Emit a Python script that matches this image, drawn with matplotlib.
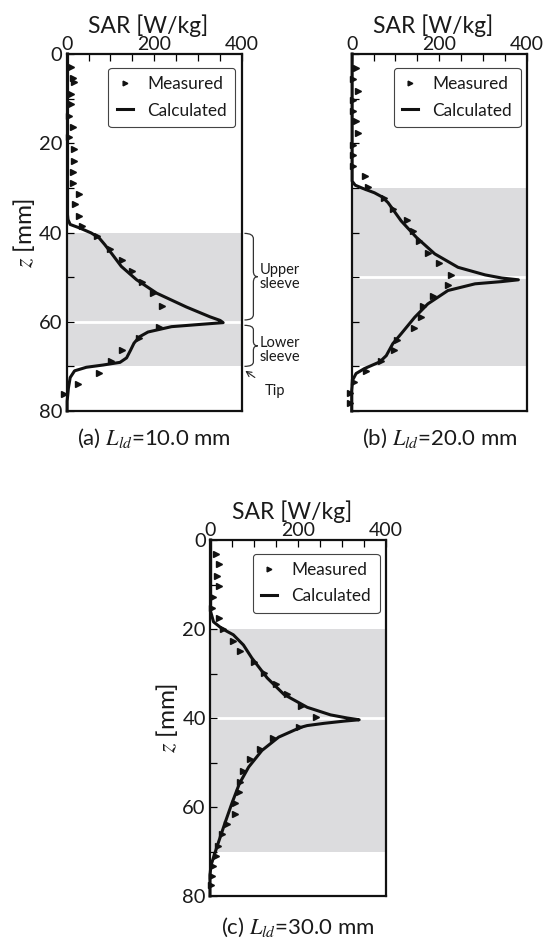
import matplotlib
matplotlib.use('Agg')
import matplotlib.pyplot as plt
from matplotlib.path import Path
from matplotlib.patches import PathPatch
from matplotlib.lines import Line2D
from matplotlib.ticker import MultipleLocator

plt.rcParams['font.family'] = ['Lato', 'DejaVu Sans']
plt.rcParams['mathtext.fontset'] = 'stix'

# (a) L_ld = 10.0 mm
meas_z_a = [2.9, 5.3, 6.3, 8.9, 11.1, 13.9, 16.3, 18.6, 21.3, 23.9, 26.4, 28.9, 31.3, 33.7,
            36.3, 38.6, 40.8, 43.7, 46.2, 48.7, 51.2, 53.6, 56.4, 61.2, 63.6, 66.3, 68.9,
            71.4, 74.0, 76.2]
meas_sar_a = [10, 14, 17, 10, 10, 6, 14, 5, 17, 17, 15, 14, 28, 19,
              28, 36, 70, 98, 127, 150, 173, 198, 217, 211, 166, 127, 101,
              74, 26, -7]
calc_z_a = [0, 10, 20, 30, 36.0, 37.1, 38.2, 39.0, 40.1, 41.2, 42.7, 44.6, 47.6, 50.6, 53.6,
            56.7, 58.9, 59.7, 60.2, 60.6, 61.1, 62.3, 63.4, 64.8, 66.4, 68.1, 69.1, 69.7,
            70.2, 71.0, 72.5, 74.8, 77.8, 80]
calc_sar_a = [2, 2, 2, 2, 2, 3, 8, 30, 56, 74, 87, 102, 125, 160, 206,
              274, 328, 351, 358, 305, 240, 186, 166, 154, 146, 137, 122, 83,
              45, 18, 8, 4, 1, 1]

# (b) L_ld = 20.0 mm
meas_z_b = [3.1, 5.6, 8.2, 10.4, 12.7, 15.0, 17.7, 20.3, 22.6, 25.1, 27.3, 29.7, 32.3, 34.8,
            37.2, 39.6, 42.0, 44.5, 46.9, 49.5, 51.8, 54.3, 56.4, 59.0, 61.4, 64.2, 66.4,
            68.8, 71.0, 73.5, 76.0, 78.3]
meas_sar_b = [9, 3, 14, 3, 4, 9, 14, 4, 4, 4, 31, 38, 74, 94,
              126, 139, 153, 174, 200, 227, 220, 186, 164, 159, 142, 103, 96,
              67, 33, 5, -5, -5]
calc_z_b = [0, 10, 20, 26.2, 28.5, 29.4, 30.1, 31.1, 32.0, 33.3, 34.8, 37.4, 41.1, 44.8,
            47.8, 49.5, 50.2, 50.6, 51.0, 51.5, 53.0, 56.0, 59.0, 62.7, 64.9, 67.6, 69.0,
            70.5, 71.6, 73.1, 75.4, 80]
calc_sar_b = [1, 1, 1, 1, 1, 8, 25, 52, 69, 83, 94, 113, 148, 190,
              243, 305, 343, 381, 343, 282, 220, 174, 144, 113, 94, 79, 64,
              29, 10, 2, 0, 0]

# (c) L_ld = 30.0 mm
meas_z_c = [3.1, 5.5, 8.0, 10.4, 12.9, 15.2, 17.6, 20.0, 22.7, 25.0, 27.4, 29.9, 32.3, 34.7,
            37.3, 39.7, 42.1, 44.4, 46.9, 49.3, 51.9, 54.3, 56.7, 59.1, 61.5, 63.9, 66.1,
            68.7, 71.1, 73.2, 75.4, 77.6]
meas_sar_c = [14, 21, 17, 20, 6, 5, 20, 30, 53, 69, 99, 123, 151, 175,
              206, 240, 202, 143, 113, 90, 75, 69, 66, 57, 56, 38, 27,
              18, 14, 6, 4, 2]
calc_z_c = [0, 10, 16.1, 18.4, 19.9, 21.3, 23.6, 26.5, 31.0, 34.7, 37.6, 39.3, 40.0, 40.4,
            40.7, 41.2, 41.7, 42.1, 44.3, 47.3, 51.0, 54.7, 59.1, 63.6, 68.0, 71.0, 73.2,
            75.4, 80]
calc_sar_c = [1.5, 1.5, 1.5, 8, 27, 53, 76, 95, 130, 168, 221, 274, 312, 339,
              305, 259, 221, 206, 156, 118, 88, 67, 50, 34, 19, 9, 2,
              0, 0]

# shaded sleeve regions: start, gap, end [mm]
sleeves = {'a': (40, 60, 70), 'b': (30, 50, 70), 'c': (20, 40, 70)}
captions = {'a': '(a) $L_{ld}$=10.0 mm', 'b': '(b) $L_{ld}$=20.0 mm', 'c': '(c) $L_{ld}$=30.0 mm'}

W, H = 554, 941
fig = plt.figure(figsize=(W / 100, H / 100), dpi=100)

# axes boxes in pixels: left, top, right, bottom
boxes = {'a': (66.7, 54, 241.5, 411), 'b': (351.7, 54, 526.7, 411), 'c': (210, 540, 386, 896)}
cap_gap = {'a': 27, 'b': 27, 'c': 31}
data = {'a': (meas_z_a, meas_sar_a, calc_z_a, calc_sar_a),
        'b': (meas_z_b, meas_sar_b, calc_z_b, calc_sar_b),
        'c': (meas_z_c, meas_sar_c, calc_z_c, calc_sar_c)}

TXT = '#1a1a1a'


def brace(ax, x_end, x_stem, x_tip, z0, z1, r=1.2):
    zm = (z0 + z1) / 2
    verts = [(x_end, z0), (x_stem, z0), (x_stem, z0 + r),
             (x_stem, zm - r), (x_stem, zm), (x_tip, zm),
             (x_stem, zm), (x_stem, zm + r),
             (x_stem, z1 - r), (x_stem, z1), (x_end, z1)]
    codes = [Path.MOVETO, Path.CURVE3, Path.CURVE3, Path.LINETO, Path.CURVE3, Path.CURVE3,
             Path.CURVE3, Path.CURVE3, Path.LINETO, Path.CURVE3, Path.CURVE3]
    ax.add_patch(PathPatch(Path(verts, codes), fc='none', ec='#333333', lw=0.9,
                           transform=ax.get_yaxis_transform(), clip_on=False))


axes = {}
for key in ['a', 'b', 'c']:
    l, t, r, b = boxes[key]
    ax = fig.add_axes([l / W, 1 - b / H, (r - l) / W, (b - t) / H])
    axes[key] = ax
    mz, ms, cz, cs = data[key]
    z0, zg, z1 = sleeves[key]

    ax.axhspan(z0, z1, color='#dcdcde', lw=0, zorder=0)
    ax.axhline(zg, color='white', lw=2.0, zorder=0.5)
    ax.plot(cs, cz, color='#111111', lw=2.2, zorder=3, clip_on=False)
    ax.plot(ms, mz, ls='none', marker='>', ms=4.5, color='#111111', zorder=4, clip_on=False)

    ax.set_xlim(0, 400)
    ax.set_ylim(80, 0)
    ax.xaxis.tick_top()
    ax.xaxis.set_label_position('top')
    ax.set_xlabel('SAR [W/kg]', fontsize=16.5, color=TXT)
    ax.xaxis.set_label_coords(0.465, 1.058)
    ax.xaxis.set_major_locator(MultipleLocator(200))
    ax.xaxis.set_minor_locator(MultipleLocator(50))
    ax.yaxis.set_major_locator(MultipleLocator(20))
    ax.yaxis.set_minor_locator(MultipleLocator(10))
    ax.tick_params(axis='x', which='both', direction='in', top=True, bottom=False,
                   length=5, width=0.9, pad=1, labelsize=14, labelcolor=TXT)
    ax.tick_params(axis='y', which='both', direction='in', left=True, right=False,
                   length=5, width=0.9, pad=3, labelsize=14.5, labelcolor=TXT)
    if key == 'b':
        ax.tick_params(axis='y', labelleft=False)
    else:
        ax.set_ylabel('$z$ [mm]', fontsize=17.5, color=TXT)
        ax.yaxis.set_label_coords(-0.17, 0.5)
    for sp in ax.spines.values():
        sp.set_linewidth(1.6)
        sp.set_color('#111111')

    handles = [Line2D([], [], ls='none', marker='>', ms=3.4, color='#111111'),
               Line2D([], [], color='#111111', lw=2.2)]
    leg = ax.legend(handles, ['Measured', 'Calculated'], loc='upper right',
                    bbox_to_anchor=(0.965, 0.962), borderaxespad=0, fontsize=12.4,
                    handlelength=0.9, handletextpad=0.85, borderpad=0.5, labelspacing=0.6,
                    fancybox=True, framealpha=1)
    leg.get_frame().set_edgecolor('#444444')
    leg.get_frame().set_linewidth(0.8)
    for txt in leg.get_texts():
        txt.set_color(TXT)

    fig.text(((l + r) / 2) / W, 1 - (b + cap_gap[key]) / H, captions[key], ha='center',
             va='center', fontsize=16, color=TXT)

# sleeve annotations on (a)
ax = axes['a']
brace(ax, 1.017, 1.068, 1.093, 40.2, 59.6)
brace(ax, 1.017, 1.068, 1.093, 60.8, 70.0, r=1.0)
ax.text(1.105, 50, 'Upper\nsleeve', transform=ax.get_yaxis_transform(), ha='left',
        va='center', fontsize=10.5, color=TXT, linespacing=0.95)
ax.text(1.105, 66.3, 'Lower\nsleeve', transform=ax.get_yaxis_transform(), ha='left',
        va='center', fontsize=10.5, color=TXT, linespacing=0.95)
ax.annotate('Tip', xy=(1.022, 71.0), xycoords=ax.get_yaxis_transform(),
            xytext=(1.19, 75.6), textcoords=ax.get_yaxis_transform(),
            ha='center', va='center', fontsize=10.5, color=TXT,
            arrowprops=dict(arrowstyle='->,head_length=0.35,head_width=0.18', lw=0.8,
                            color='#222222', shrinkA=6, shrinkB=0))

fig.savefig('out.png', dpi=100)
